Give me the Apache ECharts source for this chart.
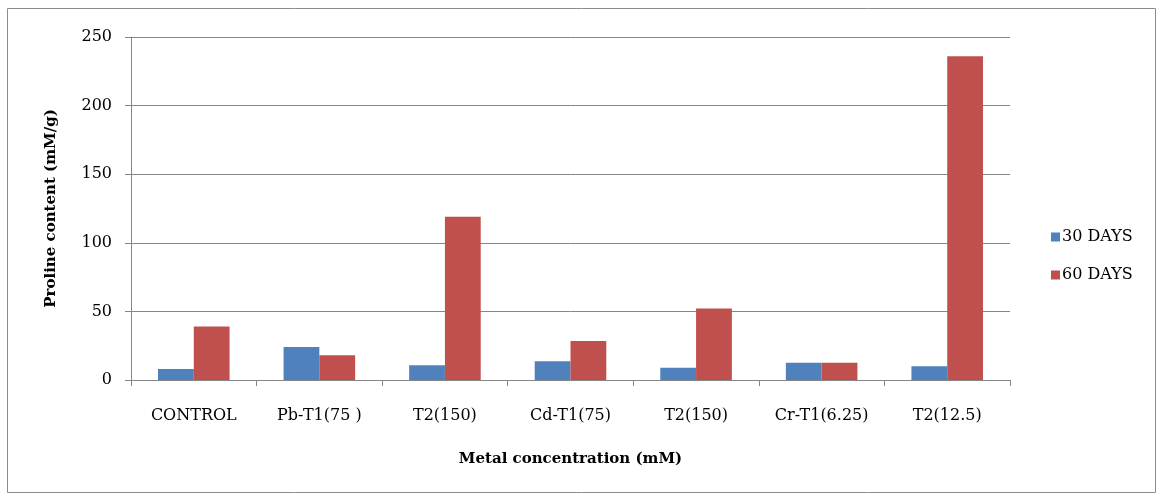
<!DOCTYPE html>
<html><head><meta charset="utf-8">
<script src="https://cdn.jsdelivr.net/npm/echarts@6/dist/echarts.min.js"></script>
<style>html,body{margin:0;padding:0;background:#fff}#c{width:1161px;height:495px}</style>
</head><body><div id="c"></div>
<script>
const categories = ['CONTROL', 'Pb-T1(75 )', 'T2(150)', 'Cd-T1(75)', 'T2(150)', 'Cr-T1(6.25)', 'T2(12.5)'];
const days30 = [8, 24, 10.7, 13.6, 9, 12.6, 10];
const days60 = [39, 18, 119, 28.4, 52.2, 12.6, 236];
const yTicks = [0, 50, 100, 150, 200, 250];
const seriesNames = ['30 DAYS', '60 DAYS'];

const font = 'DejaVu Serif';
const chart = echarts.init(document.getElementById('c'));
chart.setOption({
  animation: false,
  textStyle: { fontFamily: font },
  graphic: [{ type: 'rect', shape: { x: 7.5, y: 8.5, width: 1148, height: 484 }, style: { fill: 'none', stroke: '#8c8c8c', lineWidth: 1 }, silent: true }],
  grid: { left: 131, right: 151, top: 37, bottom: 115 },
  legend: {
    orient: 'vertical', left: 1046, top: 224, itemGap: 22, itemWidth: 9, itemHeight: 9,
    icon: 'rect', textStyle: { fontFamily: font, fontSize: 16, color: '#000', padding: [0, 0, 0, -3] }
  },
  xAxis: {
    type: 'category', data: categories,
    axisLine: { lineStyle: { color: '#868686' } },
    axisTick: { show: true, length: 6, lineStyle: { color: '#868686' } },
    axisLabel: { color: '#000', fontSize: 16, fontFamily: font, margin: 28, interval: 0 },
    name: 'Metal concentration (mM)', nameLocation: 'middle', nameGap: 72,
    nameTextStyle: { fontFamily: font, fontSize: 15, fontWeight: 'bold', color: '#000' }
  },
  yAxis: {
    type: 'value', min: yTicks[0], max: yTicks[yTicks.length - 1], interval: 50,
    axisLine: { show: true, lineStyle: { color: '#868686' } },
    axisTick: { show: true, length: 6, lineStyle: { color: '#868686' } },
    splitLine: { lineStyle: { color: '#868686' } },
    axisLabel: { color: '#000', fontSize: 16, fontFamily: font, margin: 19 },
    name: 'Proline content (mM/g)', nameLocation: 'middle', nameGap: 72,
    nameTextStyle: { fontFamily: font, fontSize: 15, fontWeight: 'bold', color: '#000' }
  },
  series: [
    { name: seriesNames[0], type: 'bar', data: days30, barGap: '0%', barCategoryGap: '43%', itemStyle: { color: '#4F81BD' } },
    { name: seriesNames[1], type: 'bar', data: days60, barGap: '0%', barCategoryGap: '43%', itemStyle: { color: '#C0504D' } }
  ]
});
</script></body></html>
